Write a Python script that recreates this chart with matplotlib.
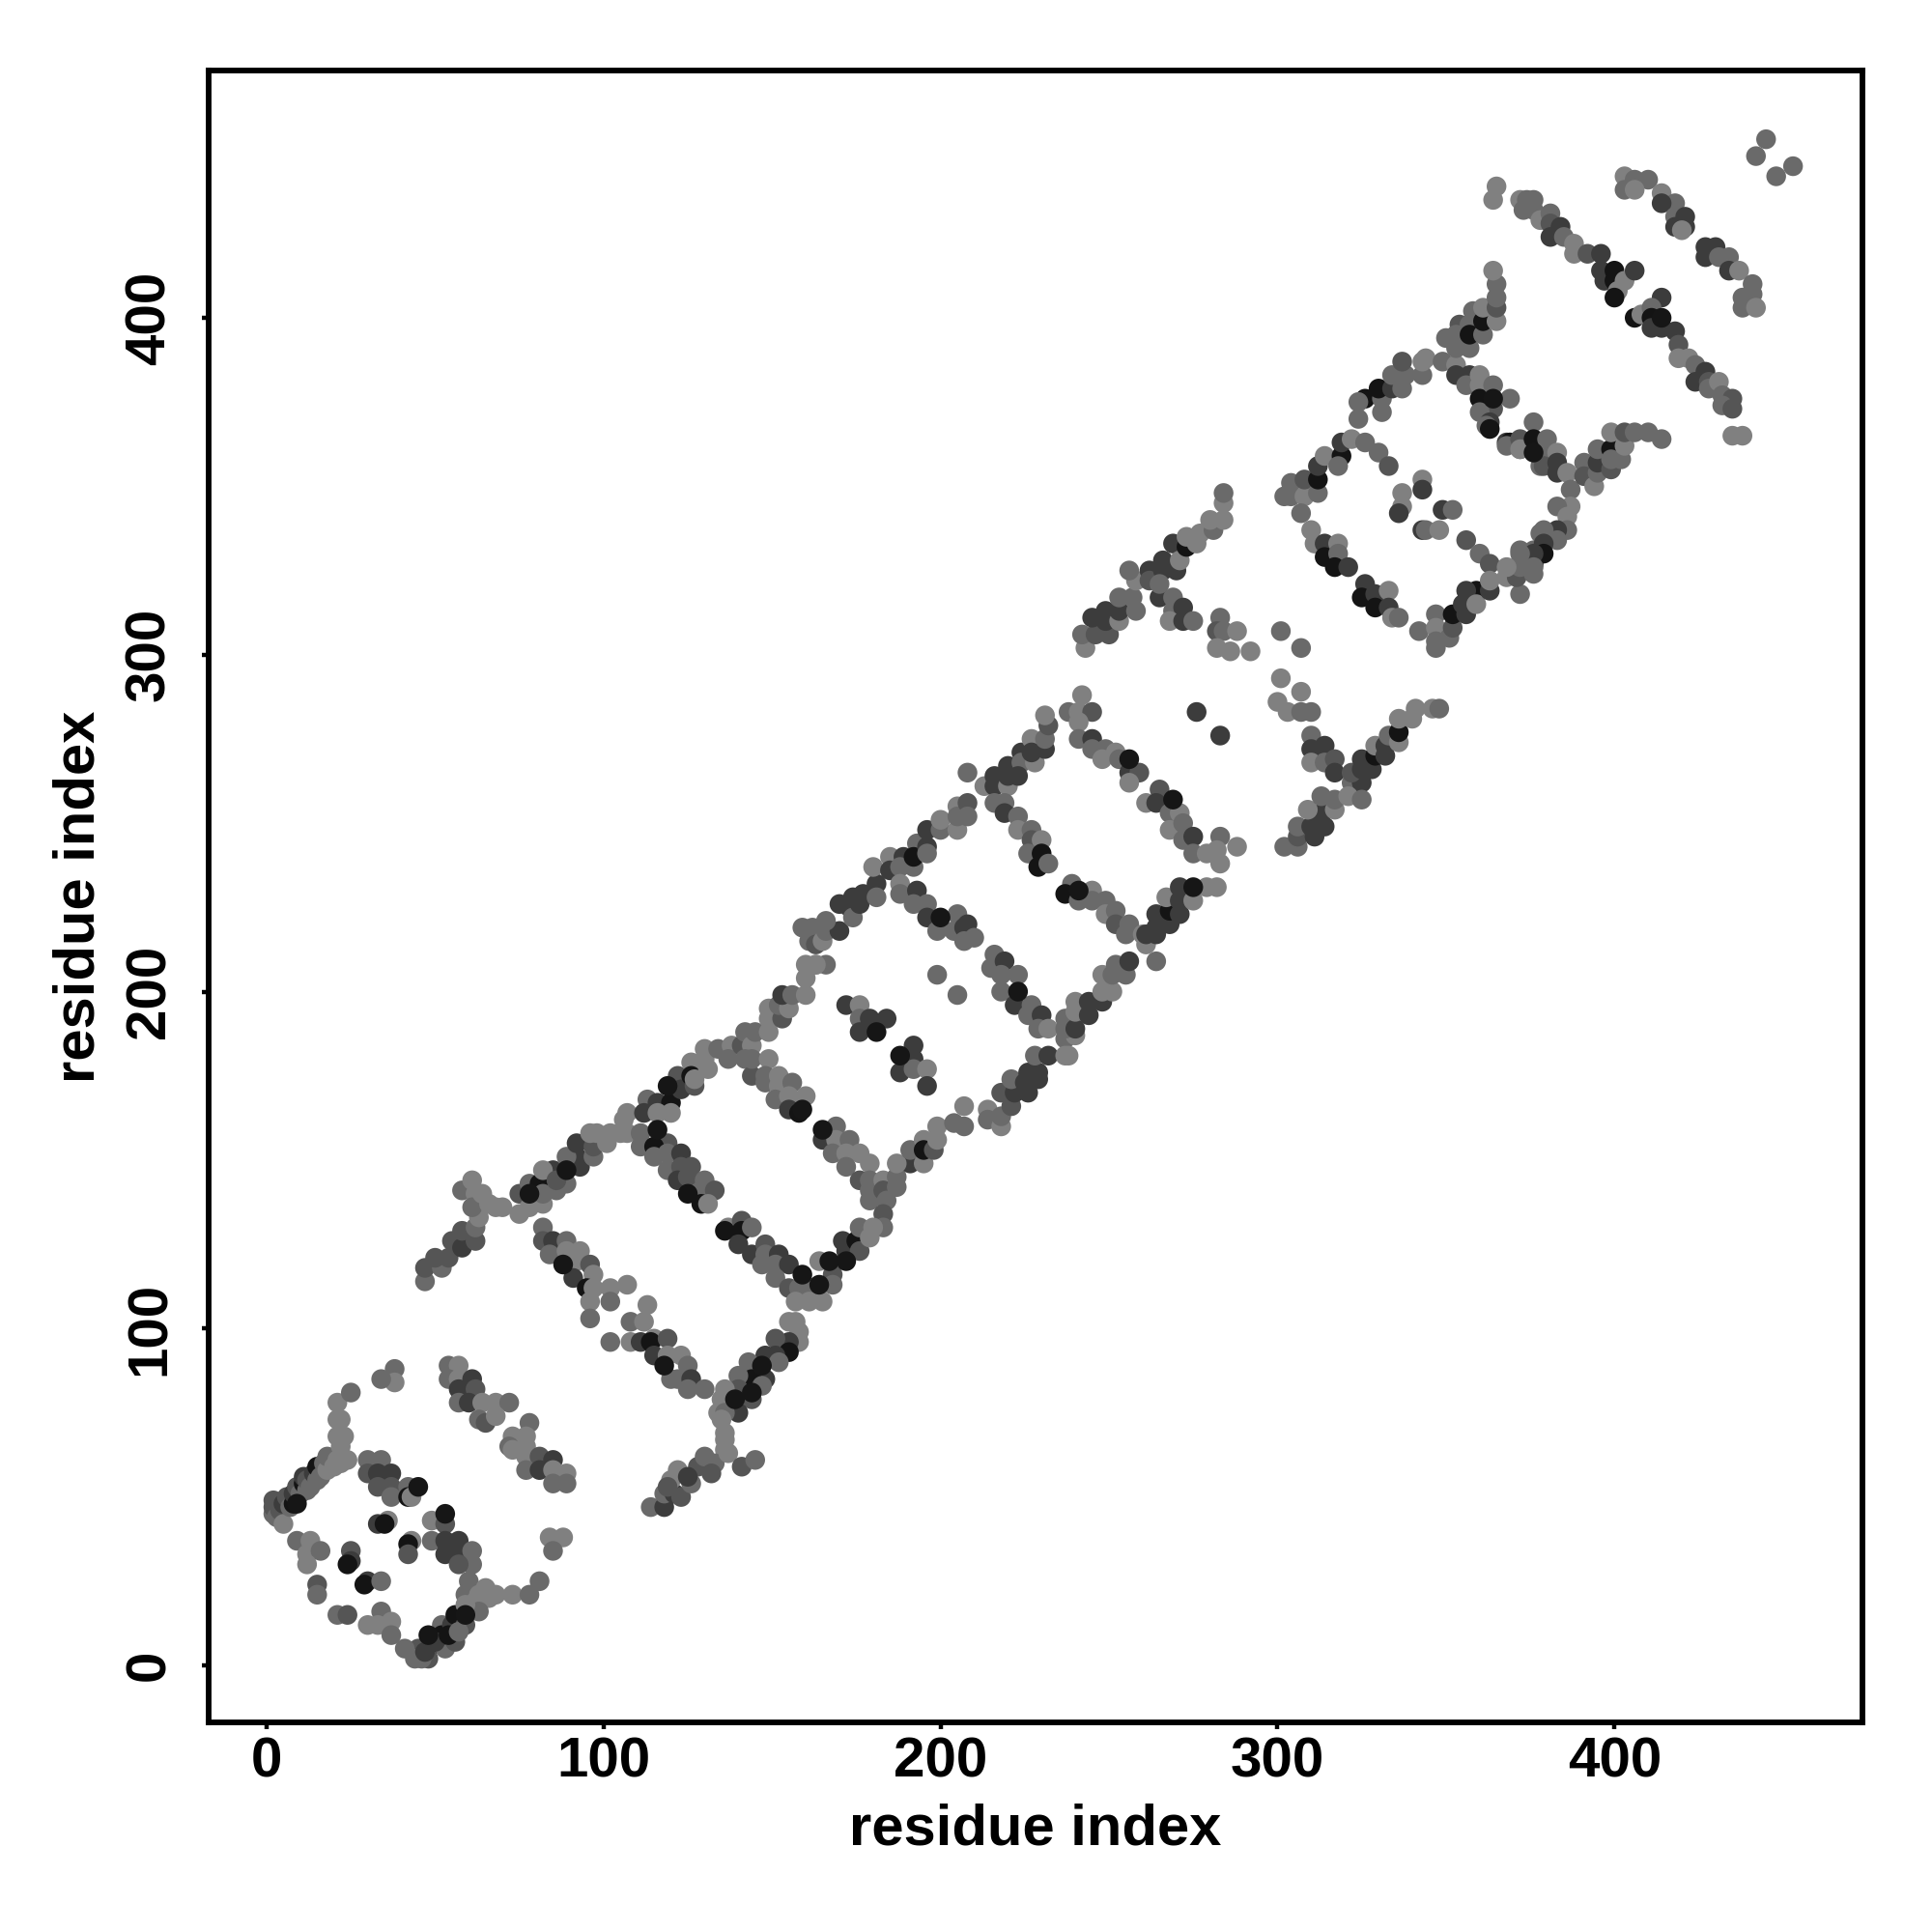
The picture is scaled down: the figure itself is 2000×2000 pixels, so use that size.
import matplotlib
matplotlib.use("Agg")
import matplotlib.pyplot as plt

# Each point: (residue i, residue j, shade class) ; shade 0 darkest under, 1 dark, 2 mid-dark, 3 mid, 4 light, 5 darkest on top
helix1_left = [(2,45,3),(2,47,2),(2,49,2),(3,44,3),(4,46,2),(5,42,4),(5,48,1),(6,50,2),(7,47,3),(8,48,0),(9,48,5),(8,51,1),(9,53,2),(10,51,3),(11,54,0),(11,56,1),(12,52,3),(12,55,2),(13,53,3),(14,57,1),(15,55,3),(15,59,0),(16,56,3),(17,60,3),(18,58,4),(18,62,3),(20,59,4),(21,61,4),(22,60,4),(24,61,4)]
helix1_top = [(21,78,4),(25,81,3),(21,73,4),(22,73,4),(21,68,4),(22,65,4),(23,68,4),(38,88,3),(38,84,4),(34,85,3)]
helix1_cross = [(30,61,3),(34,61,3),(30,57,2),(33,57,1),(37,57,1),(33,53,2),(37,53,2),(37,50,3),(42,53,3),(45,53,5),(42,50,0),(43,50,4),(33,42,1),(36,43,4),(35,42,0),(43,37,4),(42,36,0),(42,33,2),(49,43,4),(53,45,5),(53,42,2),(49,37,3),(53,37,1),(57,37,1),(53,33,1),(57,33,1),(61,34,3),(61,30,3),(57,30,2)]
helix1_arm = [(60,25,3),(59,21,3),(63,21,4),(65,23,4),(68,21,4),(73,21,4),(78,21,3),(81,25,3),(62,19,4),(66,20,4)]
helix1_low = [(48,9,5),(52,12,3),(48,5,0),(45,5,2),(41,5,3),(44,2,3),(48,2,2),(46,2,3),(53,5,3),(56,7,2),(52,9,0),(55,12,1),(56,15,0),(59,15,5),(59,12,2),(63,16,3),(59,18,4),(50,7,1),(54,9,0),(57,10,3),(47,4,1)]
helix1_inner = [(9,37,3),(13,37,4),(12,33,4),(16,34,3),(12,30,4),(15,24,2),(15,21,3),(25,34,2),(25,31,1),(24,30,0),(30,25,1),(29,24,0),(34,25,3),(21,15,3),(24,15,2),(30,12,4),(34,16,3),(33,12,4),(37,13,4),(37,9,3)]
helix1_right = [(54,89,3),(57,89,4),(54,85,3),(57,85,4),(61,85,1),(57,82,1),(62,82,2),(57,78,3),(60,78,1),(64,78,4),(68,78,4),(72,78,3),(63,73,3),(65,72,2),(68,74,4),(78,72,3),(73,68,4),(77,68,4),(72,65,3),(73,64,4),(77,65,4),(77,62,4),(81,62,2),(85,61,1),(77,58,3),(81,58,1),(85,58,4),(89,57,4),(85,54,3),(89,54,3),(84,38,4),(88,38,4),(85,34,3)]
strand_start = [(47,114,3),(47,118,2),(52,118,3),(50,121,2),(54,121,2),(55,126,2),(58,124,1),(62,126,2),(58,129,2),(62,130,3),(58,141,3),(61,144,4),(62,140,4),(64,138,4),(63,133,4),(61,136,3),(64,140,4),(66,137,4),(68,136,4),(70,136,4)]
strand_a = [(75,140,2),(75,134,4),(78,140,5),(78,143,3),(78,136,4),(81,143,0),(82,137,4),(82,140,3),(86,141,3),(85,147,1),(82,147,4),(89,147,5),(89,143,3),(86,144,2),(93,148,1),(92,151,1),(89,151,3),(97,151,3),(92,155,1),(97,154,2),(96,158,4),(98,158,4),(102,158,4),(101,155,4),(105,158,4),(107,158,4)]
strand_b = [(107,164,4),(106,162,4),(111,158,3),(111,154,3),(113,168,3),(112,164,1),(116,167,1),(119,172,5),(120,167,0),(116,164,4),(120,164,4),(122,175,2),(123,171,1),(126,179,4),(126,175,0),(127,172,2),(127,174,4),(130,183,4),(131,177,4),(130,180,4),(134,183,3),(138,184,4),(137,180,3),(141,184,2),(142,188,3),(144,184,4),(145,188,3),(149,188,4),(149,192,4),(149,195,4),(153,192,2),(152,196,3),(155,195,4),(153,199,1),(156,199,3),(160,199,4),(160,204,4),(160,208,4),(163,208,4),(166,208,3)]
strand_c = [(142,180,3),(144,175,2),(144,180,3),(149,180,4),(148,173,3),(148,175,3),(152,175,4),(152,172,4),(151,168,3),(156,173,3),(155,169,4),(155,165,1),(160,169,4),(159,165,5),(158,164,0)]
strand_d = [(116,159,5),(119,155,2),(115,154,0),(115,151,3),(119,152,3),(123,152,1),(119,147,3),(123,148,2),(126,148,2),(122,144,1),(125,145,2),(130,144,3),(129,141,3),(125,140,0),(133,141,2),(129,137,0),(131,137,4)]
strand_e = [(165,159,5),(169,160,3),(165,156,1),(169,156,4),(173,156,3),(168,152,3),(172,152,4),(176,152,4),(172,148,3),(176,144,2),(179,149,4),(179,144,3),(179,141,3),(179,138,3),(183,144,4),(183,141,2),(184,138,3),(183,134,2),(183,130,3),(187,142,3),(187,145,3)]
strand_f = [(164,120,4),(164,113,5),(167,120,5),(168,116,2),(168,113,3),(172,120,5),(171,126,1),(172,123,1),(175,126,0),(176,123,2),(176,130,3),(179,127,4),(180,130,4),(191,149,1),(187,149,4),(191,153,3),(195,149,4),(195,156,4),(195,153,0),(198,153,2),(199,156,4),(199,160,4),(204,161,3),(207,166,4),(207,160,3)]
strand_g = [(137,130,4),(136,129,0),(141,132,2),(141,129,0),(144,130,3),(140,125,1),(144,122,1),(148,125,2),(148,122,3),(152,122,1),(147,119,3),(151,119,3),(155,119,1),(151,115,3),(155,112,2),(159,116,5),(158,112,3),(162,112,3),(165,108,4),(157,108,4),(161,108,4)]
strand_h = [(155,102,4),(157,102,4),(158,99,4),(158,96,4),(155,96,1),(151,97,2),(155,93,0),(148,92,1),(151,92,1),(152,90,3),(143,90,3),(147,89,5),(148,85,1),(144,85,0),(147,83,3),(140,86,3),(144,81,5),(144,79,2),(139,79,5),(140,75,1),(140,82,2),(136,82,4),(135,79,4),(134,75,4),(136,75,3),(136,69,4),(136,67,4),(136,64,4),(135,73,4)]
strand_i = [(114,47,3),(118,47,1),(118,51,3),(121,51,1),(120,55,4),(122,58,4),(119,53,2),(123,50,2),(126,54,3),(128,59,2),(130,62,3),(133,60,3),(137,63,4),(141,59,2),(145,61,3),(132,57,2),(125,56,1)]
strand_j = [(82,130,3),(82,126,2),(85,126,1),(89,126,3),(84,122,3),(88,119,5),(89,123,4),(93,123,4),(92,120,4),(91,115,1),(96,119,2),(97,116,4),(95,112,0),(97,112,4),(102,112,4),(107,113,4),(96,108,4),(102,108,3),(113,107,4),(96,103,3),(102,96,3),(108,102,3),(112,102,4),(108,96,4),(111,96,1),(115,97,4),(114,96,0),(119,97,2),(115,92,1),(119,92,4),(123,92,4),(118,89,5),(125,89,3),(122,85,3),(126,85,1),(125,82,3),(130,82,3),(120,85,3)]
blob_a = [(172,196,1),(176,196,4),(176,192,3),(179,192,1),(184,192,1),(176,188,1),(181,188,5),(192,184,1),(188,181,5),(192,180,1),(188,176,1),(192,177,3),(196,177,4),(196,172,1),(199,205,3),(205,199,3)]
strand_k = [(163,208,4),(159,219,3),(162,219,3),(161,215,3),(163,214,2),(165,215,4),(166,218,3),(170,218,1),(170,226,1),(166,221,3),(174,228,1),(173,225,1),(174,222,3),(177,229,1),(176,226,1),(181,232,1),(181,228,3),(180,237,4),(185,240,4),(185,236,1),(189,240,1),(188,237,3),(192,237,3),(193,244,3),(192,240,0),(196,248,1),(196,243,1),(196,241,3),(200,248,3),(200,251,4),(205,248,4),(205,255,4),(205,252,3),(208,256,2),(208,252,3)]
strand_l = [(208,265,3),(213,261,4),(216,264,1),(216,261,1),(220,261,4),(220,267,1),(220,264,1),(224,271,1),(224,268,3),(223,264,1),(228,268,4),(227,275,4),(227,271,1),(231,272,1),(231,275,3),(232,279,2),(231,282,4)]
strand_m = [(242,288,4),(238,283,3),(241,283,4),(245,283,2),(241,280,4),(241,275,3),(245,275,1),(245,272,3),(249,272,3),(252,271,4),(248,269,4),(253,269,3),(256,269,5),(256,265,1),(259,265,2),(256,262,4)]
strand_n = [(265,260,2),(261,256,4),(264,256,1),(269,257,5),(268,253,3),(271,253,4),(268,248,4),(272,250,3),(272,245,3),(275,246,1),(275,241,3),(279,241,4),(283,246,3),(282,242,4),(283,238,4),(288,243,4)]
strand_o = [(216,256,3),(219,256,3),(219,253,1),(223,252,3),(223,248,4),(227,248,3),(227,245,2),(230,245,4),(226,241,3),(230,241,0),(229,237,0),(232,238,3)]
strand_p = [(188,232,4),(188,229,3),(193,230,1),(192,226,3),(196,226,3),(196,222,1),(200,222,5),(199,218,3),(205,223,3),(204,218,3),(208,220,1),(207,219,1),(210,216,3),(207,215,3)]
strand_q = [(216,211,3),(215,207,3),(219,209,1),(218,205,3),(223,205,3),(218,200,3),(223,200,5),(222,196,1),(227,196,3),(226,193,3),(230,193,1),(229,189,3),(232,189,4)]
strand_r = [(237,186,3),(240,187,4),(237,189,3),(237,192,3),(240,189,1),(240,194,4),(240,197,4),(244,193,1),(244,197,1),(248,197,1),(248,200,4),(251,200,4),(248,205,4),(251,205,3),(255,205,3),(252,208,3),(256,209,1),(264,209,3)]
strand_s = [(214,165,4),(214,162,3),(218,160,4),(218,163,3),(218,170,2),(221,166,2),(222,170,1),(221,174,3),(226,170,1),(225,173,1),(226,176,1),(229,176,1),(229,174,1),(228,181,3),(232,181,1),(237,181,4),(238,181,4)]
strand_t = [(239,232,3),(237,229,0),(241,230,5),(241,227,3),(245,230,4),(245,227,3),(249,227,3),(249,223,4),(252,224,3),(252,220,2),(256,220,3),(255,217,3),(260,217,4)]
strand_u = [(261,214,4),(261,217,1),(264,217,1),(264,219,1),(264,223,1),(268,220,1),(268,224,0),(267,228,4),(271,223,1),(271,227,1),(271,231,1),(275,227,4),(275,231,5),(279,231,4),(282,231,4)]
strand_v = [(243,302,4),(242,306,3),(246,306,2),(245,311,1),(249,313,1),(250,306,2),(249,310,1),(253,310,4),(253,313,1),(253,317,3),(258,313,3),(257,317,3),(258,322,4),(256,325,3),(262,325,1),(262,322,2),(266,328,1),(266,325,1),(269,333,1),(270,325,1),(271,328,4),(273,332,0),(273,335,4),(276,333,4),(277,336,4),(281,337,3),(280,340,4),(284,340,4),(284,345,4),(284,348,3)]
strand_w = [(265,317,1),(269,317,3),(269,313,3),(272,314,1),(268,310,4),(272,310,1),(275,310,3),(265,321,3)]
loop_a = [(283,311,3),(282,307,2),(284,307,3),(288,307,4),(282,302,4),(286,301,4),(292,301,4),(301,307,3),(307,302,3),(301,293,4),(307,289,4),(300,286,4),(303,283,4),(307,283,3),(310,283,3),(276,283,1),(283,276,1)]
strand_x = [(310,276,3),(310,272,1),(314,273,1),(310,268,4),(314,268,3),(317,269,2),(317,265,1)]
strand_y = [(322,262,3),(325,262,1),(322,265,2),(325,269,1),(325,266,1),(328,266,1),(329,270,0),(329,273,4),(332,270,1),(332,273,1),(333,276,3),(336,274,4),(336,277,0),(336,281,4),(340,281,4),(341,284,4),(346,284,4),(348,284,3)]
strand_z = [(302,243,3),(306,243,3),(306,246,2),(306,249,3),(311,246,1),(310,249,1),(314,249,1),(313,253,1),(309,254,4),(317,254,4),(313,258,3),(317,257,3),(321,258,4),(325,257,3)]
helix4_top = [(302,347,3),(304,351,3),(304,347,3),(308,347,4),(308,352,2),(307,342,3),(312,348,3),(312,352,0),(312,356,1),(314,359,4),(319,359,0),(318,356,3),(319,363,1),(322,364,4),(326,363,3),(330,360,3),(333,356,2)]
helix4_left = [(310,337,4),(311,333,4),(314,333,1),(318,333,4),(314,329,0),(318,330,3),(317,326,0),(321,326,1),(326,321,1),(325,317,0),(329,318,1),(329,314,0),(333,319,4),(333,314,1),(334,311,4),(336,311,3)]
helix4_core = [(343,352,4),(343,349,1),(337,348,4),(337,344,4),(336,342,1),(349,343,1),(352,343,3),(343,337,1),(344,337,3),(348,337,4),(356,334,2),(360,330,3),(363,327,2)]
helix4_low = [(342,307,3),(347,312,3),(347,308,4),(347,304,3),(347,302,3),(351,305,3),(352,308,2),(352,312,0),(356,312,1),(355,315,1),(359,319,0),(356,319,1),(359,315,4),(363,319,1),(363,322,4),(368,323,4),(372,318,3),(371,323,2),(372,327,3),(376,324,3),(376,327,0),(372,331,3),(376,331,3),(378,330,0),(378,336,3)]
strand_aa = [(368,363,1),(372,361,3),(376,361,0),(378,356,3),(374,363,1),(324,370,3),(326,376,0),(324,375,3),(331,372,3),(331,376,3),(330,379,0),(334,379,1),(334,383,3),(337,379,3),(338,383,3),(337,387,2),(343,383,3),(343,387,4),(344,388,4),(349,387,3),(353,386,4),(353,383,1)]
strand_ab = [(350,394,3),(353,391,3),(354,398,2),(353,395,3),(357,391,3),(357,398,3),(357,395,0),(358,402,3),(361,395,3),(361,399,0),(361,403,4),(365,399,4),(365,403,2),(365,406,3),(365,410,3),(364,414,4)]
strand_ac = [(357,383,1),(356,380,3),(360,383,4),(360,380,4),(360,376,0),(364,380,3),(364,376,5),(364,373,2),(369,376,3),(360,372,3),(363,369,1),(362,368,3),(363,367,0)]
strand_ad = [(376,369,3),(369,363,0),(368,362,3),(372,364,2),(372,361,4),(376,364,0),(376,360,5),(380,364,3),(379,360,3),(383,360,4),(379,356,2),(383,357,1),(383,354,1),(386,354,4),(387,349,3),(387,344,4),(383,344,3),(386,341,4),(386,337,3),(383,337,1),(379,337,3),(383,334,3),(379,333,1),(379,330,0),(376,330,1),(376,326,3),(372,330,3),(372,326,3),(368,326,4)]
strand_ae = [(391,357,3),(391,353,2),(394,350,4),(395,354,3),(395,357,1),(395,361,3),(399,355,2),(399,361,0),(399,358,3),(402,358,3),(403,362,4),(399,366,4),(403,366,2),(406,366,3),(410,366,3),(414,364,3)]
strand_af = [(365,439,4),(364,435,4),(372,435,4),(374,435,3),(376,435,3),(373,432,3),(376,432,3),(378,429,4),(381,431,3),(381,428,2),(384,427,1),(381,424,1),(385,424,3),(388,422,4),(388,419,4),(392,419,2),(396,419,1),(396,414,1),(397,411,1),(400,414,0),(400,411,0),(403,411,4),(406,414,1),(401,408,4),(400,406,0)]
strand_ag = [(414,406,1),(406,400,0),(408,401,4),(411,403,3),(411,400,0),(414,400,5),(411,397,1),(414,397,1),(418,396,1),(419,392,2),(419,388,4),(422,388,4),(424,386,3),(427,384,1),(424,381,1),(428,381,2),(428,379,3),(431,381,4),(432,377,3),(435,376,2),(432,374,3),(435,373,2),(435,365,4),(438,365,4)]
strand_ah = [(403,442,4),(406,441,3),(410,441,3),(403,438,3),(406,438,4),(414,437,4),(418,434,3),(414,434,1),(418,430,3),(421,430,1),(421,427,1),(418,427,1),(420,426,4),(427,421,1),(430,421,1),(427,418,1),(431,418,3),(434,418,3),(434,414,1),(437,414,4),(441,410,3),(438,406,3),(441,407,3),(438,403,3),(442,403,4)]
final_dots = [(445,453,3),(442,448,3),(453,445,3),(448,442,3)]

groups = [helix1_left, helix1_top, helix1_cross, helix1_arm, helix1_low, helix1_inner, helix1_right,
          strand_start, strand_a, strand_b, strand_c, strand_d, strand_e, strand_f, strand_g, strand_h,
          strand_i, strand_j, blob_a, strand_k, strand_l, strand_m, strand_n, strand_o, strand_p, strand_q,
          strand_r, strand_s, strand_t, strand_u, strand_v, strand_w, loop_a, strand_x, strand_y, strand_z,
          helix4_top, helix4_left, helix4_core, helix4_low, strand_aa, strand_ab, strand_ac, strand_ad,
          strand_ae, strand_af, strand_ag, strand_ah, final_dots]
tick_values = [0, 100, 200, 300, 400]
axis_label = "residue index"

shades = {0: "#141414", 1: "#3c3c3c", 2: "#555555", 3: "#6a6a6a", 4: "#808080", 5: "#161616"}
# Keep the reading order inside each strand; only the fully visible darkest marks go last.
points = sorted((p for g in groups for p in g), key=lambda p: p[2] == 5)

plt.rcParams["font.family"] = ["Liberation Sans", "DejaVu Sans"]
fig = plt.figure(figsize=(10, 10), dpi=200)
ax = fig.add_axes([0.108, 0.1085, 0.856, 0.855])
ax.scatter([p[0] for p in points], [p[1] for p in points],
           c=[shades[p[2]] for p in points], s=54, linewidths=0, clip_on=True)
ax.set_xlim(-17.2, 473.6)
ax.set_ylim(-16.9, 473.4)
ax.set_xticks(tick_values)
ax.set_yticks(tick_values)
for s in ax.spines.values():
    s.set_linewidth(2.1)
ax.tick_params(axis="both", length=2.6, width=1.6)
ax.tick_params(axis="x", pad=2.5, labelsize=21)
ax.tick_params(axis="y", pad=9.5, labelsize=21)
for t in ax.get_xticklabels():
    t.set_fontweight("bold")
for t in ax.get_yticklabels():
    t.set_fontweight("bold")
    t.set_rotation(90)
    t.set_va("center")
ax.set_xlabel(axis_label, fontsize=21.5, fontweight="bold", va="center")
ax.set_ylabel(axis_label, fontsize=21.5, fontweight="bold", va="center")
ax.xaxis.set_label_coords(0.5, -0.0652)
ax.yaxis.set_label_coords(-0.0785, 0.5)
fig.savefig("out.png", dpi=200, facecolor="white")
